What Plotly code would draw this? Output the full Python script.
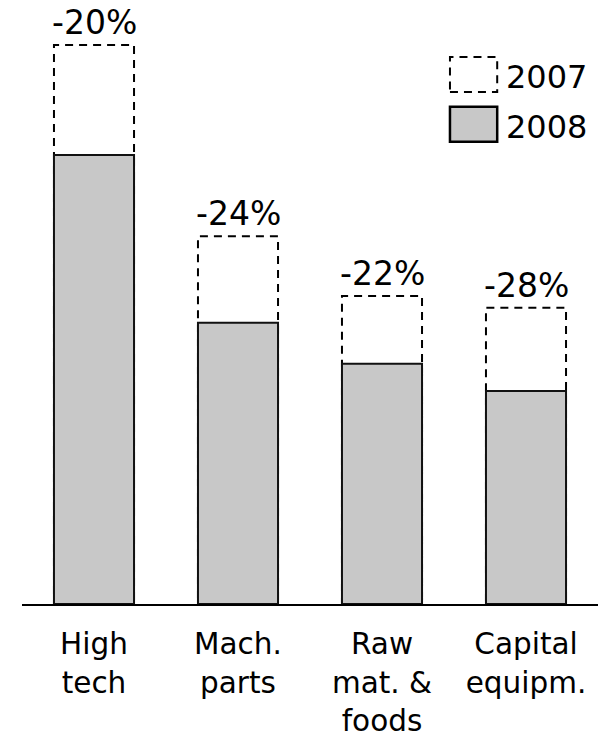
import plotly.graph_objects as go

categories = ["High<br>tech", "Mach.<br>parts", "Raw<br>mat. &<br>foods", "Capital<br>equipm."]
values_2007 = [100.0, 65.8, 55.1, 53.0]
values_2008 = [80.3, 50.3, 43.0, 38.1]
change_labels = ["-20%", "-24%", "-22%", "-28%"]

FONT = "DejaVu Sans"
BAR_W = 0.556
GRAY = "#c8c8c8"

fig = go.Figure()
fig.add_trace(go.Bar(x=categories, y=values_2007, name="2007", width=BAR_W,
                     marker=dict(color="rgba(0,0,0,0)", line=dict(width=0)),
                     showlegend=False))
fig.add_trace(go.Bar(x=categories, y=values_2008, name="2008", width=BAR_W,
                     marker=dict(color=GRAY, line=dict(color="#111111", width=2)),
                     showlegend=False))

shapes = []
for i, v in enumerate(values_2007):
    shapes.append(dict(type="rect", xref="x", yref="y", x0=i - BAR_W / 2, x1=i + BAR_W / 2,
                       y0=0, y1=v, layer="below",
                       line=dict(color="black", width=2, dash="8px,6px"), fillcolor="white"))

annotations = []
for i, (v, t) in enumerate(zip(values_2007, change_labels)):
    annotations.append(dict(x=i, y=v, xref="x", yref="y", text=t, showarrow=False,
                            yanchor="bottom", yshift=1, font=dict(family=FONT, size=33, color="black")))

# legend (manual, large swatches)
shapes.append(dict(type="rect", xref="paper", yref="paper", x0=0.743, x1=0.825, y0=0.862, y1=0.921,
                   line=dict(color="black", width=2, dash="8px,6px"), fillcolor="white"))
shapes.append(dict(type="rect", xref="paper", yref="paper", x0=0.743, x1=0.825, y0=0.778, y1=0.837,
                   line=dict(color="black", width=2.5), fillcolor=GRAY))
annotations.append(dict(x=0.837, y=0.887, xref="paper", yref="paper", text="2007", showarrow=False,
                        xanchor="left", yanchor="middle", font=dict(family=FONT, size=32, color="black")))
annotations.append(dict(x=0.837, y=0.803, xref="paper", yref="paper", text="2008", showarrow=False,
                        xanchor="left", yanchor="middle", font=dict(family=FONT, size=32, color="black")))

fig.update_layout(
    width=599, height=738,
    margin=dict(l=22, r=1, t=10, b=134),
    barmode="overlay",
    plot_bgcolor="white", paper_bgcolor="white",
    shapes=shapes, annotations=annotations,
    font=dict(family=FONT, size=29.5, color="black"),
)
fig.update_xaxes(showline=True, linecolor="black", linewidth=2, ticks="", showgrid=False,
                 range=[-0.5, 3.5], ticklabelstandoff=13, automargin=False,
                 tickfont=dict(family=FONT, size=29.5, color="black"))
fig.update_yaxes(visible=False, range=[0, 594 / 5.59], showgrid=False, zeroline=False,
                 automargin=False)

fig.write_html("out.html", config={"displayModeBar": False},
               post_script="document.body.style.margin='0px';")
